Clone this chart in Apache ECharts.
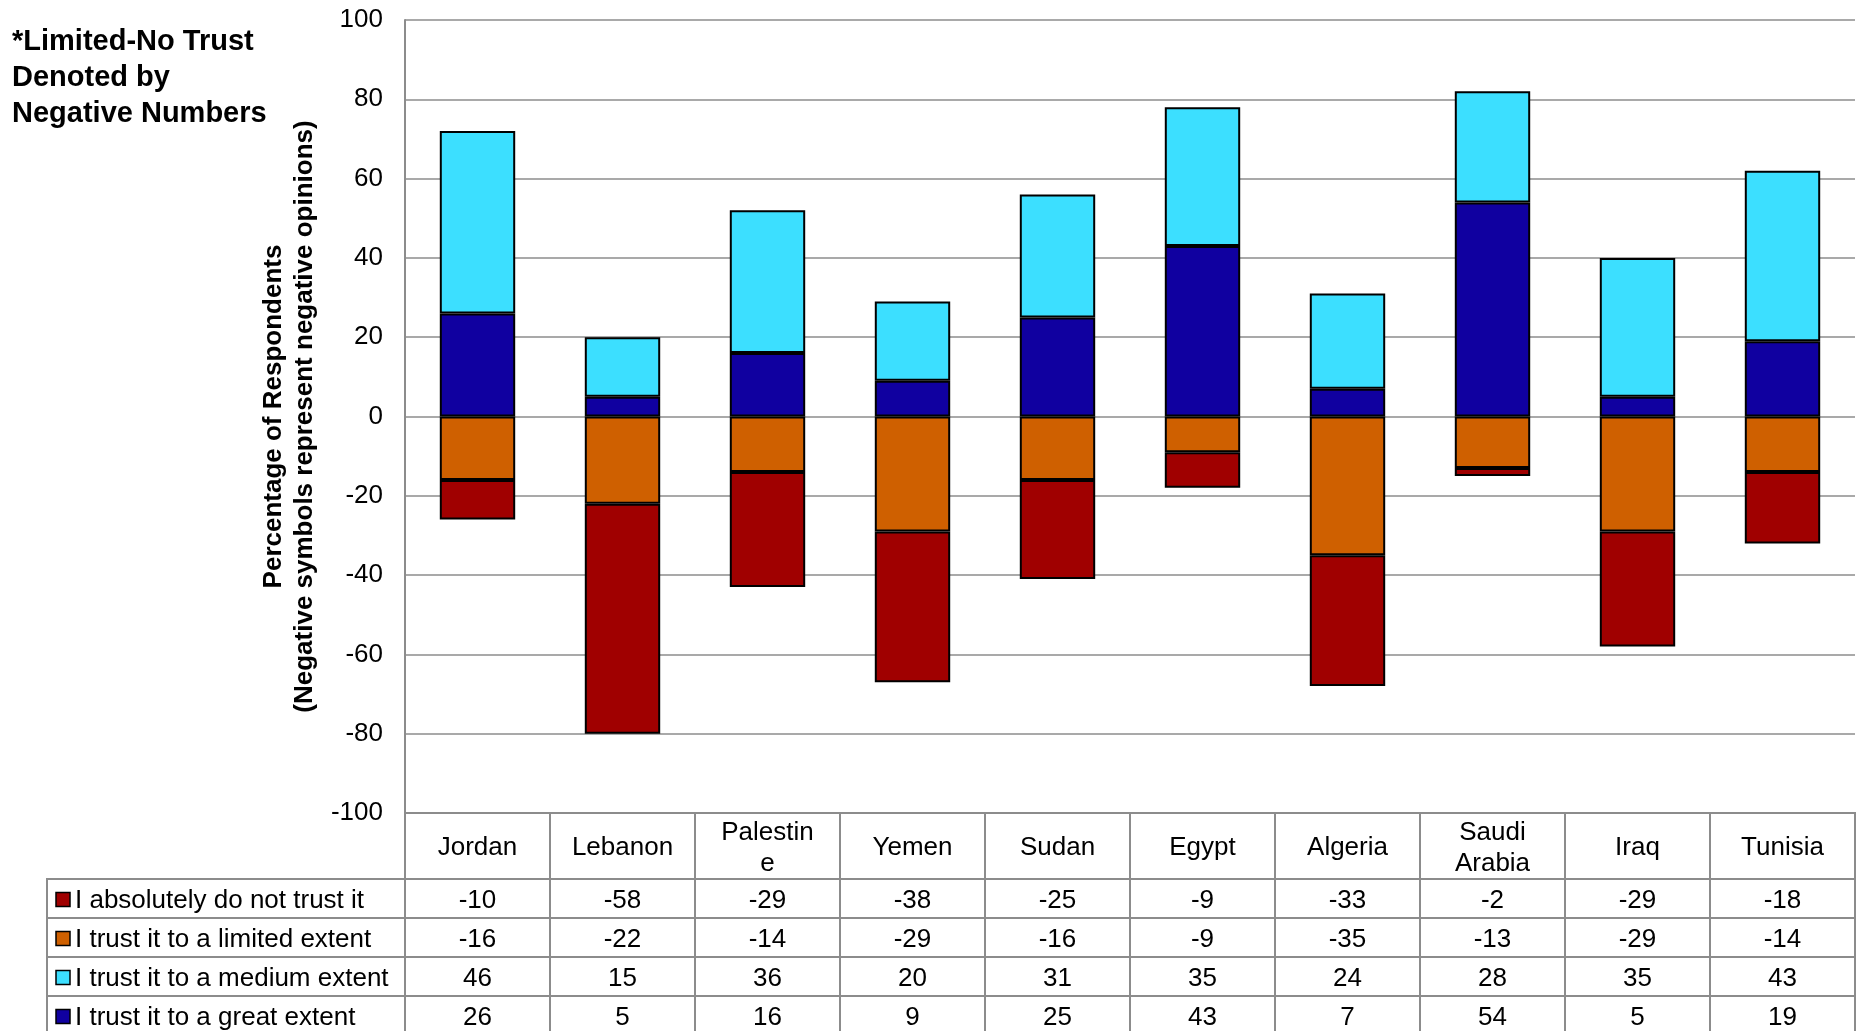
<!DOCTYPE html>
<html>
<head>
<meta charset="UTF-8">
<title>Trust by country</title>
<script src="https://cdn.jsdelivr.net/npm/echarts@6/dist/echarts.min.js"></script>
<style>
  html, body, #main {
    margin: 0;
    padding: 0;
    width: 100%;
    height: 100%;
    background: #fff;
  }
</style>
</head>
<body>
<div id="main"></div>
<script>
  const countries = ['Jordan', 'Lebanon', 'Palestine', 'Yemen', 'Sudan', 'Egypt', 'Algeria', 'Saudi Arabia', 'Iraq', 'Tunisia'];
  // header cells as they are wrapped in the table
  const headerLabels = ['Jordan', 'Lebanon', 'Palestin\ne', 'Yemen', 'Sudan', 'Egypt', 'Algeria', 'Saudi\nArabia', 'Iraq', 'Tunisia'];

  const absolutelyNot = [-10, -58, -29, -38, -25, -9, -33, -2, -29, -18];
  const limitedExtent = [-16, -22, -14, -29, -16, -9, -35, -13, -29, -14];
  const mediumExtent = [46, 15, 36, 20, 31, 35, 24, 28, 35, 43];
  const greatExtent = [26, 5, 16, 9, 25, 43, 7, 54, 5, 19];

  const yMin = -100, yMax = 100, yStep = 20;

  const FONT = 'Liberation Sans';
  const GRID_LINE = '#8c8c8c';
  const HEAD_H = 66;     // header row height of the data table
  const ROW_H = 39;      // data row height
  const LEGEND_LEFT = 47;

  // rows of the table, top to bottom
  const tableRows = [
    { name: 'I absolutely do not trust it', color: '#A00000', values: absolutelyNot },
    { name: 'I trust it to a limited extent', color: '#CF6000', values: limitedExtent },
    { name: 'I trust it to a medium extent', color: '#3CDFFF', values: mediumExtent },
    { name: 'I trust it to a great extent', color: '#1000A0', values: greatExtent }
  ];

  function barSeries(row) {
    return {
      name: row.name,
      type: 'bar',
      stack: 'trust',
      barWidth: '52%',
      data: row.values,
      itemStyle: { color: row.color, borderColor: '#000', borderWidth: 2 }
    };
  }

  function cellText(text, x, y, align) {
    return {
      type: 'text',
      style: {
        text: text, x: x, y: y + 2,
        align: align || 'center', verticalAlign: 'middle',
        fontSize: 26, fontFamily: FONT, fill: '#000', lineHeight: 31
      }
    };
  }

  function cellRect(x, y, w, h) {
    return {
      type: 'rect',
      shape: { x: x, y: y, width: w, height: h },
      style: { fill: 'none', stroke: GRID_LINE, lineWidth: 2 }
    };
  }

  // data table under the plot, one column per country
  function renderTable(params, api) {
    const i = api.value(0);
    const pt = api.coord([i, yMin]);
    const w = api.size([1, 0])[0];
    const x0 = pt[0] - w / 2;
    const y0 = pt[1];
    const children = [];

    children.push(cellRect(x0, y0, w, HEAD_H));
    children.push(cellText(headerLabels[i], pt[0], y0 + HEAD_H / 2));

    tableRows.forEach(function (row, k) {
      const ry = y0 + HEAD_H + k * ROW_H;
      children.push(cellRect(x0, ry, w, ROW_H));
      children.push(cellText(String(row.values[i]), pt[0], ry + ROW_H / 2));

      if (i === 0) {
        children.push(cellRect(LEGEND_LEFT, ry, x0 - LEGEND_LEFT, ROW_H));
        children.push({
          type: 'rect',
          shape: { x: LEGEND_LEFT + 9, y: ry + ROW_H / 2 - 6, width: 14, height: 14 },
          style: { fill: row.color, stroke: '#000', lineWidth: 1.5 }
        });
        children.push(cellText(row.name, LEGEND_LEFT + 28, ry + ROW_H / 2, 'left'));
      }
    });

    return { type: 'group', children: children };
  }

  const chart = echarts.init(document.getElementById('main'));

  chart.setOption({
    animation: false,
    backgroundColor: '#fff',
    grid: { left: 405, right: 6, top: 20, bottom: 218 },
    graphic: [{
      type: 'text',
      left: 12,
      top: 24,
      style: {
        text: '*Limited-No Trust\nDenoted by\nNegative Numbers',
        fontSize: 29, fontWeight: 'bold', fontFamily: FONT,
        lineHeight: 36, fill: '#000'
      }
    }],
    xAxis: {
      type: 'category',
      data: countries,
      axisLine: { show: false },
      axisTick: { show: false },
      axisLabel: { show: false }
    },
    yAxis: {
      type: 'value',
      min: yMin,
      max: yMax,
      interval: yStep,
      name: 'Percentage of Respondents\n(Negative symbols represent negative opinions)',
      nameLocation: 'middle',
      nameGap: 82,
      nameTextStyle: {
        fontSize: 26, fontWeight: 'bold', fontFamily: FONT,
        color: '#000', lineHeight: 31
      },
      axisLine: { show: true, lineStyle: { color: GRID_LINE, width: 2 } },
      axisTick: { show: false },
      axisLabel: { fontSize: 26, fontFamily: FONT, color: '#000', margin: 22 },
      splitLine: { lineStyle: { color: GRID_LINE, width: 1.5 } }
    },
    series: [
      barSeries(tableRows[3]),
      barSeries(tableRows[2]),
      barSeries(tableRows[1]),
      barSeries(tableRows[0]),
      {
        type: 'custom',
        coordinateSystem: 'cartesian2d',
        clip: false,
        silent: true,
        z: 10,
        data: countries.map(function (c, i) { return [i, yMin]; }),
        renderItem: renderTable
      }
    ]
  });
</script>
</body>
</html>
